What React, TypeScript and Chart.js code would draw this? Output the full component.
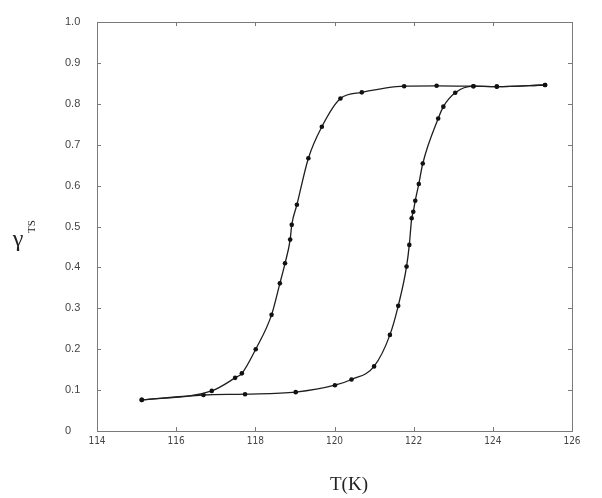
import React, { useEffect, useRef } from "react";
import { Chart, registerables } from "chart.js";

Chart.register(...registerables);

// Cooling branch (left loop side)
const coolingT = [115.13, 116.9, 117.49, 117.66, 118.01, 118.41, 118.62, 118.75, 118.88, 118.92, 119.05, 119.34, 119.68, 120.15, 120.69, 121.76, 122.58, 123.51, 124.1, 125.32];
const coolingY = [0.076, 0.098, 0.13, 0.141, 0.2, 0.284, 0.361, 0.41, 0.468, 0.504, 0.553, 0.667, 0.744, 0.813, 0.828, 0.843, 0.844, 0.843, 0.842, 0.846];

// Heating branch (right loop side)
const heatingT = [115.13, 116.69, 117.74, 119.02, 120.01, 120.43, 121.0, 121.4, 121.61, 121.82, 121.89, 121.95, 121.99, 122.04, 122.13, 122.23, 122.62, 122.75, 123.05, 123.51, 124.1, 125.32];
const heatingY = [0.076, 0.088, 0.09, 0.095, 0.112, 0.126, 0.158, 0.235, 0.306, 0.402, 0.455, 0.52, 0.536, 0.563, 0.604, 0.654, 0.764, 0.793, 0.827, 0.843, 0.842, 0.846];

const xTicks = [114, 116, 118, 120, 122, 124, 126];
const yTicks = [0, 0.1, 0.2, 0.3, 0.4, 0.5, 0.6, 0.7, 0.8, 0.9, 1.0];
const xTitle = "T(K)";
const yTitleMain = "γ";
const yTitleSub = "TS";

const toPoints = (xs: number[], ys: number[]) => xs.map((x, i) => ({ x, y: ys[i] }));

const framePlugin = {
  id: "frame",
  afterDraw(chart: any) {
    const { ctx, chartArea, scales } = chart;
    const { left, right, top, bottom } = chartArea;
    ctx.save();
    ctx.strokeStyle = "#7a7a7a";
    ctx.lineWidth = 1;
    ctx.strokeRect(Math.round(left) + 0.5, Math.round(top) + 0.5, Math.round(right - left), Math.round(bottom - top));
    const tl = 4;
    ctx.beginPath();
    xTicks.forEach((t) => {
      const px = Math.round(scales.x.getPixelForValue(t)) + 0.5;
      ctx.moveTo(px, bottom);
      ctx.lineTo(px, bottom - tl);
      ctx.moveTo(px, top);
      ctx.lineTo(px, top + tl);
    });
    yTicks.forEach((t) => {
      const py = Math.round(scales.y.getPixelForValue(t)) + 0.5;
      ctx.moveTo(left, py);
      ctx.lineTo(left + tl, py);
      ctx.moveTo(right, py);
      ctx.lineTo(right - tl, py);
    });
    ctx.stroke();

    // titles
    ctx.fillStyle = "#222";
    ctx.font = "19px 'Liberation Serif', 'DejaVu Serif', serif";
    ctx.textAlign = "center";
    ctx.textBaseline = "alphabetic";
    ctx.fillText(xTitle, 349, 490);

    ctx.font = "24px 'Liberation Serif', 'DejaVu Serif', serif";
    ctx.fillText(yTitleMain, 18, 246);

    ctx.translate(35, 233);
    ctx.rotate(-Math.PI / 2);
    ctx.textAlign = "left";
    ctx.font = "11px 'Liberation Serif', 'DejaVu Serif', serif";
    ctx.fillText(yTitleSub, 0, 0);
    ctx.restore();
  },
};

export default function App() {
  const ref = useRef<HTMLCanvasElement | null>(null);
  useEffect(() => {
    document.body.style.margin = "0";
    if (!ref.current) return;
    const lineStyle = {
      borderColor: "#1e1e1e",
      backgroundColor: "#111",
      borderWidth: 1.3,
      pointRadius: 2.3,
      pointBorderWidth: 0,
      pointBackgroundColor: "#111",
      cubicInterpolationMode: "monotone" as const,
      fill: false,
    };
    const chart = new Chart(ref.current, {
      type: "line",
      data: {
        datasets: [
          { label: "cooling", data: toPoints(coolingT, coolingY), ...lineStyle },
          { label: "heating", data: toPoints(heatingT, heatingY), ...lineStyle },
        ],
      },
      options: {
        animation: false,
        responsive: false,
        layout: { padding: { left: 65, top: 22, right: 30, bottom: 0 } },
        plugins: { legend: { display: false }, tooltip: { enabled: false } },
        scales: {
          x: {
            type: "linear",
            min: 114,
            max: 126,
            afterBuildTicks: (s: any) => {
              s.ticks = xTicks.map((v) => ({ value: v }));
            },
            afterFit: (s: any) => {
              s.height = 67;
            },
            grid: { display: false, drawTicks: false },
            border: { display: false },
            ticks: {
              padding: 4,
              color: "#444",
              font: { family: "'DejaVu Sans Condensed', 'Liberation Sans', sans-serif", size: 10 },
              callback: (v: any) => String(v),
              maxRotation: 0,
            },
          },
          y: {
            type: "linear",
            min: 0,
            max: 1,
            afterBuildTicks: (s: any) => {
              s.ticks = yTicks.map((v) => ({ value: v }));
            },
            afterFit: (s: any) => {
              s.width = 32;
            },
            grid: { display: false, drawTicks: false },
            border: { display: false },
            ticks: {
              crossAlign: "far",
              color: "#444",
              font: { family: "'Liberation Sans', sans-serif", size: 11 },
              callback: (v: any) => (Number(v) === 0 ? "0" : Number(v).toFixed(1)),
            },
          },
        },
      },
      plugins: [framePlugin],
    });
    return () => chart.destroy();
  }, []);
  return (
    <div style={{ width: 602, height: 498, background: "#fff" }}>
      <canvas ref={ref} width={602} height={498} style={{ display: "block" }} />
    </div>
  );
}
